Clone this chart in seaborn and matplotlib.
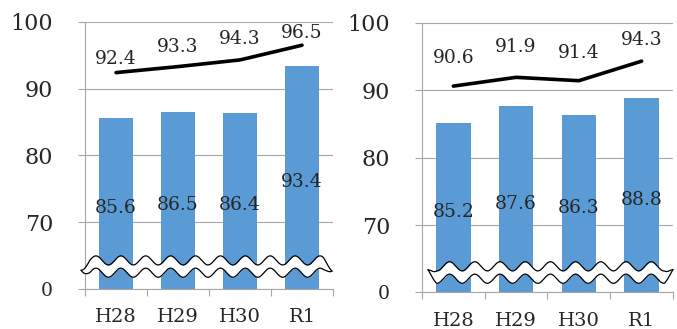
import matplotlib
matplotlib.use("Agg")
import numpy as np
import matplotlib.pyplot as plt
import seaborn as sns

# data
years = ["H28", "H29", "H30", "R1"]
left_bars = [85.6, 86.5, 86.4, 93.4]
left_line = [92.4, 93.3, 94.3, 96.5]
right_bars = [85.2, 87.6, 86.3, 88.8]
right_line = [90.6, 91.9, 91.4, 94.3]
ytick_vals = [60, 70, 80, 90, 100]
ytick_labels = ["0", "70", "80", "90", "100"]

# label offsets above line points (points)
left_offsets = [10, 14, 15, 8.5]
right_offsets = [20, 22, 20, 15]

sns.set_style("white")
plt.rcParams["font.family"] = ["DejaVu Serif"]

GRAY = "#a6a6a6"
BLUE = "#5B9BD5"

fig = plt.figure(figsize=(6.77, 3.29), dpi=100)
ax1 = fig.add_axes([0.1256, 0.1216, 0.3663, 0.812])
ax2 = fig.add_axes([0.6233, 0.111, 0.3708, 0.820])


def draw_panel(ax, bars, line, offsets, band_y, band_x0, band_x1, crest):
    sns.barplot(x=years, y=bars, color=BLUE, saturation=1, width=0.55,
                linewidth=0, ax=ax, zorder=2)
    sns.pointplot(x=years, y=line, color="black", markers="", linewidth=2.6,
                  ax=ax, zorder=4)
    ax.set_ylim(60, 100)
    ax.set_xlim(-0.5, 3.5)
    ax.set_yticks(ytick_vals)
    ax.set_yticklabels(ytick_labels, fontsize=16)
    ax.get_yticklabels()[0].set_fontsize(13.5)
    ax.set_xticks(range(4))
    ax.set_xticklabels(years, fontsize=14)
    ax.set_xticks([-0.5, 0.5, 1.5, 2.5, 3.5], minor=True)
    ax.tick_params(axis="y", length=5, color=GRAY, width=0.8, pad=18, left=True)
    ax.tick_params(axis="x", which="major", length=0, pad=14)
    ax.tick_params(axis="x", which="minor", length=5, color=GRAY, width=0.8, bottom=True)
    ax.yaxis.grid(True, color=GRAY, linewidth=0.8, zorder=0)
    ax.xaxis.grid(False)
    ax.set_axisbelow(True)
    for s in ["top", "right"]:
        ax.spines[s].set_visible(False)
    for s in ["left", "bottom"]:
        ax.spines[s].set_color(GRAY)
        ax.spines[s].set_linewidth(0.8)
    ax.set_xlabel("")
    ax.set_ylabel("")

    for i, v in enumerate(bars):
        ax.annotate(f"{v:.1f}", (i, (60 + v) / 2), xytext=(0, -3),
                    textcoords="offset points", ha="center", va="center",
                    fontsize=13.5, zorder=6)
    for i, v in enumerate(line):
        ax.annotate(f"{v:.1f}", (i, v), xytext=(0, offsets[i]),
                    textcoords="offset points", ha="center", va="center",
                    fontsize=13.5, zorder=6)

    # wavy axis break with pointed ends
    t = np.linspace(band_x0, band_x1, 600)
    period = 25 / 249
    wave = 0.017 * np.cos(2 * np.pi * (t - crest) / period)
    taper = np.clip(np.minimum(t - band_x0, band_x1 - t) / 0.035, 0, 1)
    half = 0.023 * taper
    top = band_y + half + wave
    bot = band_y - half + wave
    ax.fill_between(t, bot, top, transform=ax.transAxes, color="white",
                    zorder=5, clip_on=False, linewidth=0)
    ax.plot(t, top, color="black", lw=0.9, transform=ax.transAxes,
            zorder=6, clip_on=False)
    ax.plot(t, bot, color="black", lw=0.9, transform=ax.transAxes,
            zorder=6, clip_on=False)


draw_panel(ax1, left_bars, left_line, left_offsets, 0.084, -0.016, 0.996, 0.044)
draw_panel(ax2, right_bars, right_line, right_offsets, 0.074, 0.024, 1.0, 0.11)

fig.savefig("out.png", dpi=100)
